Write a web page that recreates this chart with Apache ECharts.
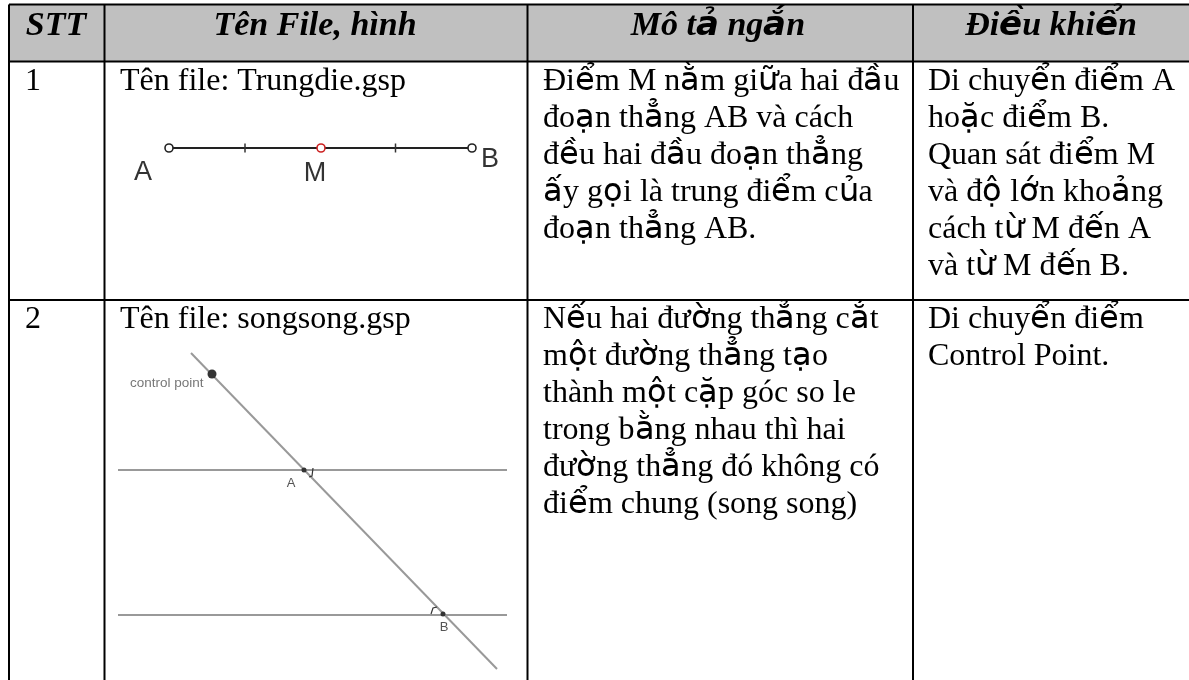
<!DOCTYPE html>
<html><head><meta charset="utf-8">
<style>
html,body{margin:0;padding:0;background:#fff}#c{width:1189px;height:680px}
@font-face{font-family:VN;src:local("DejaVu Sans");font-weight:normal;font-style:normal;unicode-range:U+1E00-1EFF}
@font-face{font-family:VN;src:local("DejaVu Sans Bold Oblique");font-weight:bold;font-style:italic;unicode-range:U+1E00-1EFF}
</style>
<script src="https://cdn.jsdelivr.net/npm/echarts@6/dist/echarts.min.js"></script>
</head><body><div id="c"></div>
<script>
// ---- content ----
const headers = ['STT', 'Tên File, hình', 'Mô tả ngắn', 'Điều khiển'];
const rowNumbers = ['1', '2'];
const fileNames = ['Tên file: Trungdie.gsp', 'Tên file: songsong.gsp'];
const descRow1 = ['Điểm M nằm giữa hai đầu', 'đoạn thẳng AB và cách', 'đều hai đầu đoạn thẳng', 'ấy gọi là trung điểm của', 'đoạn thẳng AB.'];
const descRow2 = ['Nếu hai đường thẳng cắt', 'một đường thẳng tạo', 'thành một cặp góc so le', 'trong bằng nhau thì hai', 'đường thẳng đó không có', 'điểm chung (song song)'];
const ctrlRow1 = ['Di chuyển điểm A', 'hoặc điểm B.', 'Quan sát điểm M', 'và độ lớn khoảng', 'cách từ M đến A', 'và từ M đến B.'];
const ctrlRow2 = ['Di chuyển điểm', 'Control Point.'];
// ---- table geometry, in plot units ----
const colEdges = [9, 104.5, 527.5, 913];
const rowEdges = [4.5, 61.5, 300];
const tableRight = 1189, tableBottom = 680;
const headerCenters = [56, 315, 718, 1051];
const textLefts = [25, 120, 543, 928];
const headerBaseline = 38, row1Baseline = 92, row2Baseline = 330, lineStep = 37;
// ---- figure 1 ----
const fig1Segment = [[169, 148], [472, 148]];
const fig1Ticks = [245, 395.5];
const fig1Open = [[169, 148, '#222'], [321, 148, '#c22'], [472, 148, '#222']];
const fig1Labels = [['A', 143, 182], ['M', 315, 183], ['B', 490, 169]];
// ---- figure 2 ----
const fig2Rays = [[[191, 353], [497, 669]], [[118, 470], [507, 470]], [[118, 615], [507, 615]]];
const fig2Dots = [[212, 374, 4.5], [304, 470, 2.5], [443, 614, 2.5]];
const fig2Labels = [['A', 291, 488], ['B', 444, 632]];
const fig2Arcs = [[[313, 468], [312, 476], [309, 477]], [[431, 614], [433, 608], [437, 607]]];
const fig2Caption = ['control point', 130, 388];

const SERIF = 'VN,"Liberation Serif"', SANS = '"Liberation Sans"';
const texts = [];
headers.forEach((t, i) => texts.push({ t, x: headerCenters[i], y: headerBaseline, f: `italic bold 34px ${SERIF}`, a: 'center', s: 34 }));
rowNumbers.forEach((t, i) => texts.push({ t, x: textLefts[0], y: i ? row2Baseline : row1Baseline, f: `32px ${SERIF}`, s: 32 }));
fileNames.forEach((t, i) => texts.push({ t, x: textLefts[1], y: i ? row2Baseline : row1Baseline, f: `32px ${SERIF}`, s: 32 }));
[[descRow1, 2, row1Baseline], [descRow2, 2, row2Baseline], [ctrlRow1, 3, row1Baseline], [ctrlRow2, 3, row2Baseline]].forEach(([lines, c, b]) =>
  lines.forEach((t, i) => texts.push({ t, x: textLefts[c], y: b + i * lineStep, f: `32px ${SERIF}`, s: 32 })));
fig1Labels.forEach(([t, x, y]) => texts.push({ t, x, y, f: `27px ${SANS}`, a: 'center', c: '#333', s: 27 }));
fig2Labels.forEach(([t, x, y]) => texts.push({ t, x, y, f: `13px ${SANS}`, a: 'center', c: '#555', s: 13 }));
texts.push({ t: fig2Caption[0], x: fig2Caption[1], y: fig2Caption[2], f: `13.5px ${SANS}`, c: '#777', s: 13.5 });

const segments = [];
colEdges.forEach(x => segments.push({ p: [[x, rowEdges[0]], [x, tableBottom]], w: 2, c: '#000' }));
rowEdges.forEach(y => segments.push({ p: [[colEdges[0], y], [tableRight, y]], w: 2, c: '#000' }));
segments.push({ p: fig1Segment, w: 2, c: '#222' });
fig1Ticks.forEach(x => segments.push({ p: [[x, 143.5], [x, 152.5]], w: 1.5, c: '#333' }));
fig2Rays.forEach(p => segments.push({ p, w: 2, c: '#999' }));
fig2Arcs.forEach(p => segments.push({ p, w: 1.2, c: '#333' }));

const option = {
  animation: false,
  grid: { left: 0, right: 0, top: 0, bottom: 0 },
  xAxis: { type: 'value', min: 0, max: 1189, show: false },
  yAxis: { type: 'value', min: 0, max: 680, inverse: true, show: false },
  series: [
    { type: 'custom', silent: true, z: 1, clip: false, data: [[colEdges[0], rowEdges[0], tableRight, rowEdges[1]]],
      renderItem: (p, api) => {
        const a = api.coord([api.value(0), api.value(1)]), b = api.coord([api.value(2), api.value(3)]);
        return { type: 'rect', shape: { x: a[0], y: a[1], width: b[0] - a[0], height: b[1] - a[1] }, style: { fill: '#c0c0c0' } };
      } },
    { type: 'custom', silent: true, z: 2, clip: false, data: segments.map((s, i) => [i]),
      renderItem: (p, api) => {
        const s = segments[api.value(0)];
        return { type: 'polyline', shape: { points: s.p.map(q => api.coord(q)) }, style: { fill: null, stroke: s.c, lineWidth: s.w } };
      } },
    { type: 'custom', silent: true, z: 3, clip: false, data: fig1Open.map(d => d.slice(0, 2)),
      renderItem: (p, api) => {
        const c = api.coord([api.value(0), api.value(1)]);
        return { type: 'circle', shape: { cx: c[0], cy: c[1], r: 4 }, style: { fill: '#fff', stroke: fig1Open[p.dataIndex][2], lineWidth: 1.6 } };
      } },
    { type: 'custom', silent: true, z: 3, clip: false, data: fig2Dots,
      renderItem: (p, api) => {
        const c = api.coord([api.value(0), api.value(1)]);
        return { type: 'circle', shape: { cx: c[0], cy: c[1], r: api.value(2) }, style: { fill: '#333' } };
      } },
    { type: 'custom', silent: true, z: 4, clip: false, data: texts.map((s, i) => [i]),
      renderItem: (p, api) => {
        const s = texts[api.value(0)], c = api.coord([s.x, s.y - 0.34 * s.s]);
        return { type: 'text', style: { x: c[0], y: c[1], text: s.t, font: s.f, fill: s.c || '#000', align: s.a || 'left', verticalAlign: 'middle' } };
      } }
  ]
};
function draw() { echarts.init(document.getElementById('c'), null, { renderer: 'canvas' }).setOption(option); }
Promise.all([document.fonts.load('32px VN', 'ể'), document.fonts.load('italic bold 34px VN', 'ể')]).then(draw, draw);
</script></body></html>
